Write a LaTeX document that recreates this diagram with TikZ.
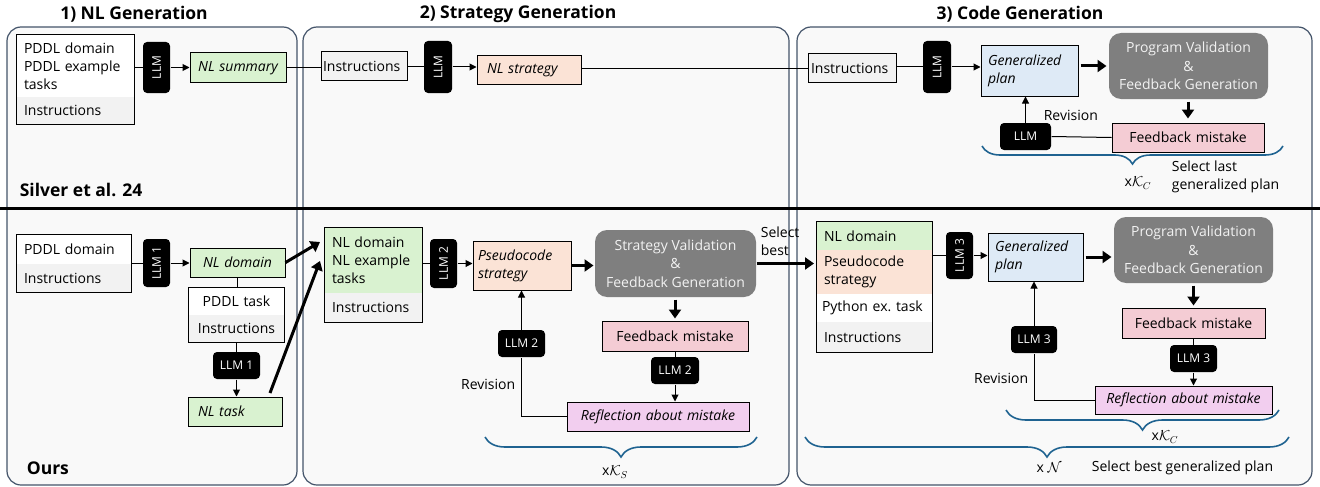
\documentclass[tikz,border=0pt]{standalone}
\usepackage{fontspec}
\setmainfont{Open Sans}
\usepackage{xcolor}
\usepackage{graphicx}
\usepackage{tikz}
\usetikzlibrary{arrows}
\usetikzlibrary{arrows.meta}
\usetikzlibrary{calc}
\usetikzlibrary{fit}
\usetikzlibrary{decorations.pathreplacing}
\definecolor{panelcolor}{HTML}{44546A}
\definecolor{panelfill}{HTML}{F9F9F9}
\definecolor{instrfill}{HTML}{F2F2F2}
\definecolor{nlfill}{HTML}{D9F2D0}
\definecolor{stratfill}{HTML}{FBE3D6}
\definecolor{planfill}{HTML}{DEEAF6}
\definecolor{fbfill}{HTML}{F4CCD4}
\definecolor{reflfill}{HTML}{F2CEEF}
\definecolor{valfill}{HTML}{7F7F7F}
\definecolor{valtext}{HTML}{F2F2F2}
\definecolor{bracecolor}{HTML}{1F6391}

\tikzset{
  txt/.style={font=\fontsize{14}{18}\selectfont},
  ittxt/.style={font=\fontsize{14}{18}\selectfont\itshape},
  sect/.style 2 args={txt, minimum width=#1pt, minimum height=#2pt, text width=#1pt-14pt,
    inner xsep=7pt, inner ysep=0pt, align=left},
  box/.style 2 args={sect={#1}{#2}, draw, line width=1pt},
  frame/.style={draw, line width=1pt, inner sep=0pt},
  llm/.style 2 args={fill=black, text=white, rounded corners=4pt, minimum width=#1pt,
    minimum height=#2pt, inner sep=0pt, font=\fontsize{12}{14}\selectfont},
  valbox/.style 2 args={fill=valfill, text=valtext, rounded corners=12pt, minimum width=#1pt,
    minimum height=#2pt, inner sep=0pt, align=center, font=\fontsize{14}{18.5}\selectfont},
  panel/.style={draw=panelcolor, fill=panelfill, line width=1.2pt, rounded corners=14pt},
  title/.style={font=\fontsize{17.5}{20}\selectfont\bfseries},
  thinarrow/.style={-{Triangle[length=7pt,width=7pt]}},
  bigarrow/.style={line width=3pt, -{Triangle[length=9pt,width=12pt]}},
  kbrace/.style={draw=bracecolor, line width=1.6pt, decorate, decoration={brace,mirror,amplitude=#1}},
  kbrace/.default=20pt
}

\begin{document}
\begin{tikzpicture}[x=1pt,y=-1pt,line width=1pt]
\useasboundingbox (0,0) rectangle (1320,487);
%% panels and separator
\foreach \xa/\xb in {7/297, 303/789, 797/1312}
    \draw[panel] (\xa,27) rectangle (\xb,485);
\draw[line width=3pt] (0,208) -- (1320,208);
\node[title] (titleNL) at (134,14) {1) NL Generation};
\node[title] (titleStrat) at (518,14) {2) Strategy Generation};
\node[title] (titleCode) at (1020,14) {3) Code Generation};

%% ---------------- Silver et al. 24 ----------------
\node[sect={117}{62}, fill=white] (sInA) at (75.5,66) {PDDL domain\\PDDL example\\tasks};
\node[sect={117}{27}, fill=instrfill] (sInB) at (75.5,110.5) {Instructions};
\node[frame, fit=(sInA)(sInB)] (sIn) {};
\node[llm={27}{51}] (sLLMa) at (156.5,67.5) {\rotatebox{90}{LLM}};
\node[box={96}{30}, ittxt, fill=nlfill, align=center] (sSum) at (238,68) {NL summary};
\node[box={86}{29}, fill=instrfill, inner xsep=2pt, text width=82pt] (sInstrB) at (364,66.5) {Instructions};
\node[llm={28}{52}] (sLLMb) at (438,67) {\rotatebox{90}{LLM}};
\node[box={104}{29}, ittxt, fill=stratfill, inner xsep=10pt, text width=84pt] (sStrat) at (529,70.5) {NL strategy};
\node[box={88}{29}, fill=instrfill, inner xsep=3pt, text width=82pt] (sInstrC) at (852,68.5) {Instructions};
\node[llm={28}{52}] (sLLMc) at (937,67) {\rotatebox{90}{LLM}};
\node[box={97}{50}, ittxt, fill=planfill] (sPlan) at (1029.5,71) {Generalized\\plan};
\node[valbox={159}{66}] (sVal) at (1188.5,66) {Program Validation\\\&\\Feedback Generation};
\node[box={152}{29}, fill=fbfill, align=center] (sFb) at (1188,137.5) {Feedback mistake};
\node[llm={51}{27}] (sLLMr) at (1025.5,136.5) {LLM};
\node[txt, anchor=west] (sRev) at (1040,115) {Revision};
\node[txt] (sK) at (1138,183) {x$\mathcal{K}_C$};
\node[txt, anchor=west, align=left] (sSel) at (1168,177) {Select last\\generalized plan};
\node[title, anchor=west] (silver) at (16,190) {Silver et al. 24};
\coordinate (sBraceL) at (982,146);
\coordinate (sBraceR) at (1283,146);

\draw (sLLMa.west -| sIn.east) -- (sLLMa.west);
\draw[thinarrow] (sLLMa.east) -- (sSum.west |- sLLMa.east);
\draw (sSum.east) -- (sInstrB.west |- sSum.east);
\draw (sInstrB.east |- sLLMb.west) -- (sLLMb.west);
\draw[thinarrow] (sLLMb.east) -- (sStrat.west |- sLLMb.east);
\draw (sStrat.east |- sInstrC.west) -- (sInstrC.west);
\draw (sInstrC.east |- sLLMc.west) -- (sLLMc.west);
\draw[thinarrow] (sLLMc.east) -- (sPlan.west |- sLLMc.east);
\draw[bigarrow, shorten <=2pt, shorten >=2pt] (sPlan.east |- sVal.west) -- (sVal.west);
\draw[bigarrow, shorten <=2pt, shorten >=4pt] (sVal.south -| sFb.north) -- (sFb.north);
\draw (sFb.west) -- (sLLMr.east);
\draw[thinarrow] (sLLMr.north) -- (sLLMr.north |- sPlan.south);
\draw[kbrace=18pt] (sBraceL) -- (sBraceR);

%% ---------------- Ours: NL generation ----------------
\node[sect={114}{29}, fill=white] (oInA) at (74,249.5) {PDDL domain};
\node[sect={114}{28}, fill=instrfill] (oInB) at (74,278) {Instructions};
\node[frame, fit=(oInA)(oInB)] (oIn) {};
\node[llm={27}{48}] (oLLMa) at (156.5,263) {\rotatebox{90}{LLM 1}};
\node[box={95}{29}, ittxt, fill=nlfill, align=center] (oDom) at (237.5,262.5) {NL domain};
\node[sect={95}{27}, fill=white, align=center] (oTaskA) at (236.5,301.5) {PDDL task};
\node[sect={95}{27}, fill=instrfill, align=center] (oTaskB) at (236.5,328.5) {Instructions};
\node[frame, fit=(oTaskA)(oTaskB)] (oTask) {};
\node[llm={47}{27}] (oLLMb) at (236.5,365.5) {LLM 1};
\node[box={94}{29}, ittxt, fill=nlfill, inner xsep=10pt, text width=74pt] (oNLt) at (235,411.5) {NL task};
\node[title, anchor=west] (ours) at (23,468) {Ours};
\coordinate (nTipA) at (320,242);
\coordinate (nTipB) at (320,261);
\coordinate (oTaskOut) at (270,393);

\draw (oLLMa.west -| oIn.east) -- (oLLMa.west);
\draw[thinarrow] (oLLMa.east) -- (oDom.west |- oLLMa.east);
\draw (oDom.south) -- (oDom.south |- oTask.north);
\draw (oLLMb.north |- oTask.south) -- (oLLMb.north);
\draw[thinarrow] (oLLMb.south) -- (oLLMb.south |- oNLt.north);
\draw[bigarrow] (oDom.east) -- (nTipA);
\draw[bigarrow] (oTaskOut) -- (nTipB);

%% ---------------- Ours: strategy generation ----------------
\node[sect={97}{65}, fill=nlfill] (nInA) at (373.5,260.5) {NL domain\\NL example\\tasks};
\node[sect={97}{29}, fill=instrfill] (nInB) at (373.5,307.5) {Instructions};
\node[frame, fit=(nInA)(nInB)] (nIn) {};
\node[llm={27}{49}] (nLLMa) at (443.5,263.5) {\rotatebox{90}{LLM 2}};
\node[box={98}{49}, ittxt, fill=stratfill, inner xsep=5pt, text width=88pt] (nPseudo) at (522,265.5) {Pseudocode\\strategy};
\node[valbox={161}{67}] (nVal) at (675.5,263.5) {Strategy Validation\\\&\\Feedback Generation};
\node[txt, anchor=west, align=left] (nSel) at (757,241) {Select\\best};
\node[box={146}{30}, fill=fbfill, align=center] (nFb) at (675,336) {Feedback mistake};
\node[llm={48}{27}] (nLLMb) at (675,370.5) {LLM 2};
\node[box={182}{29}, ittxt, fill=reflfill, align=center] (nRefl) at (658,416.5) {Reflection about mistake};
\node[llm={47}{27}] (nLLMr) at (521.5,343.5) {LLM 2};
\node[txt, anchor=east] (nRev) at (519,384) {Revision};
\node[txt] (nK) at (615,472) {x$\mathcal{K}_S$};
\coordinate (nBraceL) at (485,437);
\coordinate (nBraceR) at (757,437);

\draw (nLLMa.west -| nIn.east) -- (nLLMa.west);
\draw[thinarrow] (nLLMa.east) -- (nPseudo.west |- nLLMa.east);
\draw[bigarrow, shorten >=1pt] (nPseudo.east) -- (nVal.west |- nPseudo.east);
\draw[bigarrow, shorten <=2pt, shorten >=2pt] (nVal.south -| nFb.north) -- (nFb.north);
\draw (nFb.south) -- (nLLMb.north);
\draw[thinarrow] (nLLMb.south) -- (nLLMb.south |- nRefl.north);
\draw (nRefl.west) -| (nLLMr.south);
\draw[thinarrow] (nLLMr.north) -- (nLLMr.north |- nPseudo.south);
\draw[kbrace] (nBraceL) -- (nBraceR);

%% ---------------- Ours: code generation ----------------
\node[sect={115}{28}, fill=nlfill] (cInA) at (874.5,236) {NL domain};
\node[sect={115}{44}, fill=stratfill] (cInB) at (874.5,272) {Pseudocode\\strategy};
\node[sect={115}{28}, fill=white, inner xsep=5pt, text width=105pt] (cInC) at (874.5,308) {Python ex.\ task};
\node[sect={115}{30}, fill=instrfill] (cInD) at (874.5,337) {Instructions};
\node[frame, fit=(cInA)(cInD)] (cIn) {};
\node[llm={27}{47}] (cLLMa) at (959.5,255.5) {\rotatebox{90}{LLM 3}};
\node[box={95}{48}, ittxt, fill=planfill] (cPlan) at (1035.5,257) {Generalized\\plan};
\node[valbox={159}{66}] (cVal) at (1193.5,250) {Program Validation\\\&\\Feedback Generation};
\node[box={143}{30}, fill=fbfill, align=center] (cFb) at (1193.5,323) {Feedback mistake};
\node[llm={47}{27}] (cLLMb) at (1193.5,358.5) {LLM 3};
\node[box={177}{28}, ittxt, fill=reflfill, align=center] (cRefl) at (1183.5,400) {Reflection about mistake};
\node[llm={46}{27}] (cLLMr) at (1034,339.5) {LLM 3};
\node[txt, anchor=east] (cRev) at (1032,378) {Revision};
\node[txt] (cK) at (1165,437) {x$\mathcal{K}_C$};
\node[txt] (cN) at (1049,468) {x $\mathcal{N}$};
\node[txt, anchor=west] (cSel) at (1088,468) {Select best generalized plan};
\coordinate (cBraceL) at (1006,410);
\coordinate (cBraceR) at (1279,410);
\coordinate (cOuterL) at (805,437);
\coordinate (cOuterR) at (1289,437);

\draw[bigarrow, shorten >=2pt] (nVal.east) -- (cIn.west |- nVal.east);
\draw (cLLMa.west -| cIn.east) -- (cLLMa.west);
\draw[thinarrow] (cLLMa.east) -- (cPlan.west |- cLLMa.east);
\draw[bigarrow, shorten <=2pt, shorten >=2pt] (cPlan.east) -- (cVal.west |- cPlan.east);
\draw[bigarrow, shorten <=2pt, shorten >=2pt] (cVal.south) -- (cFb.north);
\draw (cFb.south) -- (cLLMb.north);
\draw[thinarrow] (cLLMb.south) -- (cLLMb.south |- cRefl.north);
\draw (cRefl.west) -| (cLLMr.south);
\draw[thinarrow] (cLLMr.north) -- (cLLMr.north |- cPlan.south);
\draw[kbrace] (cBraceL) -- (cBraceR);
\draw[kbrace] (cOuterL) -- (cOuterR);
\end{tikzpicture}
\end{document}
